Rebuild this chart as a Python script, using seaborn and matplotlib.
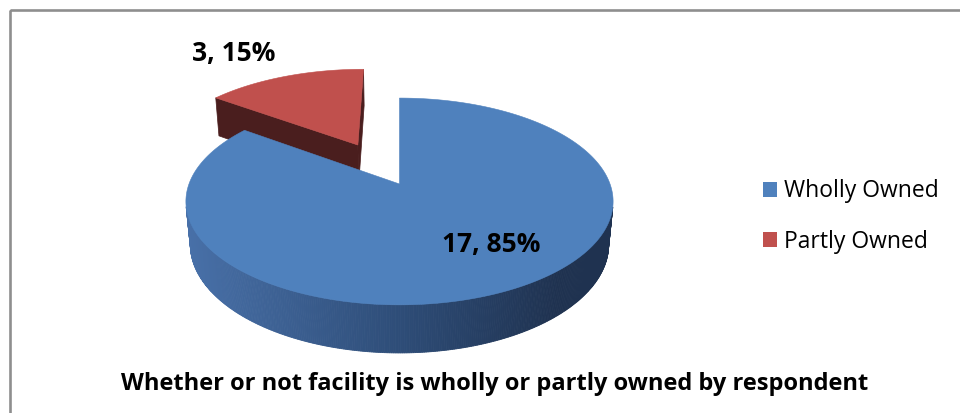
import numpy as np
import matplotlib
matplotlib.use("Agg")
import matplotlib.pyplot as plt
import seaborn as sns
from matplotlib.patches import Polygon, Patch, Rectangle

# ---- data -------------------------------------------------------------
categories = ["Wholly Owned", "Partly Owned"]
counts = [17, 3]
top_colors = ["#4F81BD", "#C0504D"]
explode = [0.0, 0.466]
title = "Whether or not facility is wholly or partly owned by respondent"

# ---- style ------------------------------------------------------------
sns.set_theme(style="white")
plt.rcParams["font.family"] = ["Open Sans", "DejaVu Sans"]

W, H = 960, 413
fig = plt.figure(figsize=(W / 100, H / 100), dpi=100)
ax = fig.add_axes([0, 0, 1, 1])
ax.set_xlim(0, W)
ax.set_ylim(H, 0)
ax.axis("off")

# ---- simple perspective camera for a tilted 3-D pie -------------------
ELEV = np.radians(28.0)
D0 = 5.23          # camera distance (in pie radii)
FOCAL = 1119.0     # pixels
FX = 0.984         # horizontal squeeze of the projection
CX, CY = 399.5, 184.0
THICK = 0.23       # pie thickness (in pie radii)
CAM = np.array([0.0, -D0 * np.cos(ELEV), D0 * np.sin(ELEV)])


def project(u, v, z):
    u = np.asarray(u, float)
    v = np.asarray(v, float)
    z = np.asarray(z, float)
    yc = v * np.sin(ELEV) + z * np.cos(ELEV)
    d = D0 + v * np.cos(ELEV) - z * np.sin(ELEV)
    return CX + FX * FOCAL * u / d, CY - FOCAL * yc / d


def side_shade(x):
    stops_x = [187, 400, 560, 620]
    stops_c = [(72, 112, 168), (46, 77, 120), (31, 50, 80), (31, 50, 80)]
    return tuple(np.interp(x, stops_x, [s[i] for s in stops_c]) / 255
                 for i in range(3))


def draw_slice(th0, th1, off, top_color, wall_dark):
    mid = 0.5 * (th0 + th1)
    ox, oy = off * np.cos(mid), off * np.sin(mid)

    # outer curved wall (front-facing part only)
    ths = np.linspace(th0, th1, 600)
    px = ox + np.cos(ths)
    py = oy + np.sin(ths)
    vis = (CAM[0] - px) * np.cos(ths) + (CAM[1] - py) * np.sin(ths) > 0
    xt, yt = project(px, py, 0.0)
    xb, yb = project(px, py, -THICK)
    for i in range(len(ths) - 1):
        if vis[i] and vis[i + 1]:
            col = side_shade(0.5 * (xt[i] + xt[i + 1]))
            ax.add_patch(Polygon([(xt[i], yt[i]), (xt[i + 1], yt[i + 1]),
                                  (xb[i + 1], yb[i + 1]), (xb[i], yb[i])],
                                 closed=True, facecolor=col, edgecolor=col,
                                 linewidth=0.6, zorder=2))

    # flat radial walls, drawn when they face the camera
    for th, is_start in ((th0, True), (th1, False)):
        nx, ny = (np.sin(th), -np.cos(th)) if is_start else (-np.sin(th), np.cos(th))
        mx, my = ox + 0.5 * np.cos(th), oy + 0.5 * np.sin(th)
        if (CAM[0] - mx) * nx + (CAM[1] - my) * ny > 1e-6:
            ex, ey = ox + np.cos(th), oy + np.sin(th)
            xs, ys = project([ox, ex, ex, ox], [oy, ey, ey, oy],
                             [0, 0, -THICK, -THICK])
            ax.add_patch(Polygon(np.column_stack([xs, ys]), closed=True,
                                 facecolor=wall_dark, edgecolor=wall_dark,
                                 linewidth=0.5, zorder=2))

    # top face
    arc = np.linspace(th0, th1, 400)
    ux = np.concatenate([[ox], ox + np.cos(arc)])
    uy = np.concatenate([[oy], oy + np.sin(arc)])
    xs, ys = project(ux, uy, np.zeros_like(ux))
    ax.add_patch(Polygon(np.column_stack([xs, ys]), closed=True,
                         facecolor=top_color, edgecolor=top_color,
                         linewidth=0.4, zorder=3))


# slice angles: start at 12 o'clock, run clockwise
total = float(sum(counts))
bounds = []
start = np.pi / 2
for c in counts:
    sweep = 2 * np.pi * c / total
    bounds.append((start - sweep, start))
    start -= sweep

wall_colors = ["#2E4A73", "#4A1E1E"]
order = sorted(range(len(counts)),
               key=lambda i: -np.sin(0.5 * (bounds[i][0] + bounds[i][1])))
for i in order:
    draw_slice(bounds[i][0], bounds[i][1], explode[i], top_colors[i], wall_colors[i])

# ---- data labels ------------------------------------------------------
label_pos = [(491, 252), (234, 61.5)]
for i, (lx, ly) in enumerate(label_pos):
    pct = round(100 * counts[i] / total)
    ax.text(lx, ly, f"{counts[i]}, {pct}%", ha="center", va="baseline",
            fontsize=19, fontweight="bold", color="black", zorder=5)

# ---- title ------------------------------------------------------------
ax.text(495, 390.3, title, ha="center", va="baseline", fontsize=17,
        fontweight="bold", color="black", zorder=5)

# ---- legend -----------------------------------------------------------
handles = [Patch(facecolor=top_colors[i], edgecolor="none", label=categories[i])
           for i in range(len(categories))]
fig.legend(handles=handles, loc="center left",
           bbox_to_anchor=(763 / W, 1 - 216.5 / H), bbox_transform=fig.transFigure,
           frameon=False, fontsize=16.5, labelcolor="black",
           handlelength=0.6, handleheight=0.6,
           handletextpad=0.33, labelspacing=1.15, borderpad=0, borderaxespad=0)

# ---- chart-area border ------------------------------------------------
ax.add_patch(Rectangle((9.5, 10), W + 20, H + 20, fill=False,
                       edgecolor="#8E8E8E", linewidth=1.9, zorder=6,
                       clip_on=False))

fig.savefig("out.png", dpi=100)
